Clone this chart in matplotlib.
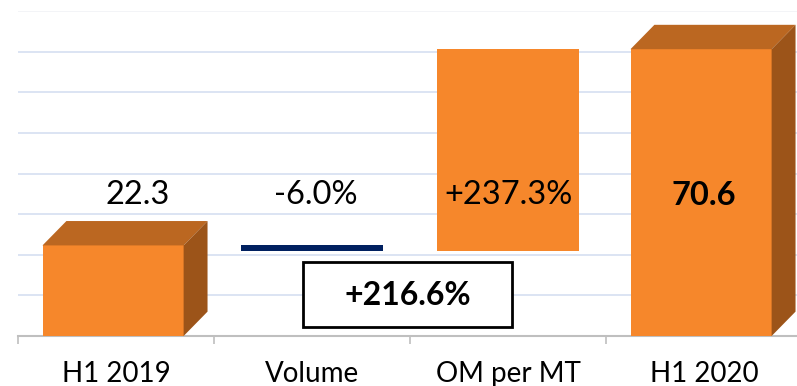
import matplotlib.pyplot as plt
from matplotlib.patches import Polygon, Rectangle

# ==========================================
# DATA
# ==========================================

categories = ["H1 2019", "Volume", "OM per MT", "H1 2020"]

start_value = 22.3
end_value = 70.6

change_pct = [-6.0, 237.3]
total_pct = 216.6

value_labels = ["22.3", "-6.0%", "+237.3%", "70.6"]

# ==========================================
# STYLE
# ==========================================

ORANGE = "#F6872B"
ORANGE_TOP = "#BB6721"
ORANGE_SIDE = "#9C5419"
NAVY = "#002060"
GRID = "#D6DFF1"

plt.rcParams["font.family"] = ["Lato", "DejaVu Sans"]

BAR_W = 0.72
DEPTH_X = 0.122
DEPTH_Y = 6.0

fig = plt.figure(figsize=(7.97, 3.86), dpi=100)
ax = fig.add_axes([18 / 797, 50 / 386, 784 / 797, 325 / 386])

ax.set_xlim(-0.5, 3.5)
ax.set_ylim(0, 80)


def bar_3d(x, height):
    left = x - BAR_W / 2
    right = x + BAR_W / 2
    ax.add_patch(Rectangle((left, 0), BAR_W, height, facecolor=ORANGE,
                           edgecolor="none", zorder=3))
    top = [(left, height), (left + DEPTH_X, height + DEPTH_Y),
           (right + DEPTH_X, height + DEPTH_Y), (right, height)]
    ax.add_patch(Polygon(top, closed=True, facecolor=ORANGE_TOP,
                         edgecolor="none", zorder=3))
    side = [(right, 0), (right, height), (right + DEPTH_X, height + DEPTH_Y),
            (right + DEPTH_X, DEPTH_Y)]
    ax.add_patch(Polygon(side, closed=True, facecolor=ORANGE_SIDE,
                         edgecolor="none", zorder=3))


# ==========================================
# BARS
# ==========================================

volume_level = start_value * (1 + change_pct[0] / 100)

bar_3d(0 - 0.015, start_value)

# volume step (thin navy bar)
ax.bar(1, start_value - volume_level, bottom=volume_level, width=BAR_W,
       color=NAVY, zorder=3)

# OM per MT step (flat bar)
ax.bar(2, end_value - volume_level, bottom=volume_level, width=BAR_W,
       color=ORANGE, zorder=3)

bar_3d(3 - 0.015, end_value)

# ==========================================
# LABELS
# ==========================================

label_x = [0.11, 1.02, 2.0, 3.0]
for i, txt in enumerate(value_labels):
    ax.text(label_x[i], 34.6, txt, ha="center", va="center", fontsize=23.5,
            fontweight="bold" if i == 3 else "normal", color="black", zorder=5)

# total change box
ax.add_patch(Rectangle((0.954, 2.2), 2.02 - 0.954, 16.0, facecolor="white",
                       edgecolor="black", linewidth=2, zorder=4))
ax.text(1.487, 10.0, f"+{total_pct}%", ha="center", va="center",
        fontsize=23, fontweight="bold", zorder=5)

# ==========================================
# AXES
# ==========================================

ax.set_yticks([10, 20, 30, 40, 50, 60, 70])
ax.yaxis.grid(True, color=GRID, linewidth=1.2)
ax.axhline(80, color="#F1F2F6", linewidth=1.2, zorder=0)
ax.set_axisbelow(True)
ax.tick_params(axis="y", length=0, labelleft=False)

ax.set_xticks(range(len(categories)))
ax.set_xticklabels(categories, fontsize=20)
ax.set_xticks([-0.5, 0.5, 1.5, 2.5, 3.5], minor=True)
ax.tick_params(axis="x", which="major", length=0, pad=18)
ax.tick_params(axis="x", which="minor", length=6, width=1.2, color="#BFBFBF")

for s in ["top", "right", "left"]:
    ax.spines[s].set_visible(False)
ax.spines["bottom"].set_color("#BFBFBF")
ax.spines["bottom"].set_linewidth(1.5)

plt.savefig("out.png", dpi=100)
